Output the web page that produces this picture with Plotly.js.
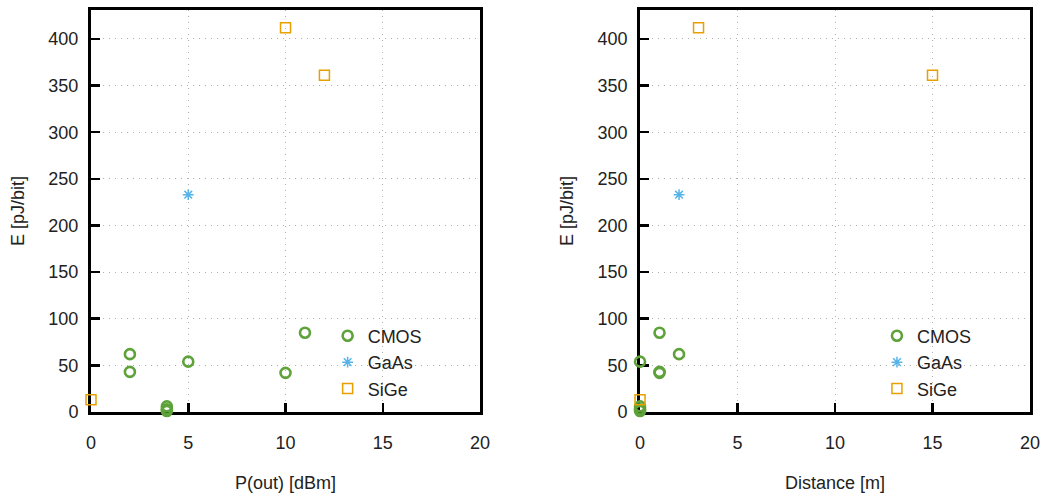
<!DOCTYPE html>
<html>
<head>
<meta charset="utf-8">
<script src="https://cdn.plot.ly/plotly-3.0.1.min.js"></script>
<style>html,body{margin:0;padding:0;background:#fff;}#chart{width:1044px;height:497px;}</style>
</head>
<body>
<div id="chart"></div>
<script>
// CMOS
const cmosPout = [2, 2, 5, 10, 11, 3.9, 3.9, 3.9];
const cmosDist = [2, 1, 0, 1, 1, 0, 0, 0];
const cmosE    = [62, 43, 54, 42, 85, 6, 3, 1];
// GaAs
const gaasPout = [5];
const gaasDist = [2];
const gaasE    = [233];
// SiGe
const sigePout = [0, 10, 12];
const sigeDist = [0, 3, 15];
const sigeE    = [13, 412, 361];

const xTicks = [0, 5, 10, 15, 20];
const yTicks = [0, 50, 100, 150, 200, 250, 300, 350, 400];

const FONT = "Liberation Sans, Arial, sans-serif";
const green = "#5ea23a", blue = "#56b4e9", orange = "#e8a000";

const circ = {symbol: "circle-open", size: 10, color: green, line: {width: 2.6, color: green}};
const star = {symbol: "asterisk-open", size: 9, color: blue, line: {width: 1.5, color: blue}};
const sq = {symbol: "square-open", size: 10, color: orange, line: {width: 1.5, color: orange}};

const common = {type: "scatter", mode: "markers", cliponaxis: false};
const traces = [
  Object.assign({x: cmosPout, y: cmosE, name: "CMOS", marker: circ, xaxis: "x", yaxis: "y", legend: "legend"}, common),
  Object.assign({x: gaasPout, y: gaasE, name: "GaAs", marker: star, xaxis: "x", yaxis: "y", legend: "legend"}, common),
  Object.assign({x: sigePout, y: sigeE, name: "SiGe", marker: sq, xaxis: "x", yaxis: "y", legend: "legend"}, common),
  Object.assign({x: cmosDist, y: cmosE, name: "CMOS", marker: circ, xaxis: "x2", yaxis: "y2", legend: "legend2"}, common),
  Object.assign({x: gaasDist, y: gaasE, name: "GaAs", marker: star, xaxis: "x2", yaxis: "y2", legend: "legend2"}, common),
  Object.assign({x: sigeDist, y: sigeE, name: "SiGe", marker: sq, xaxis: "x2", yaxis: "y2", legend: "legend2"}, common)
];

const GRID = {showgrid: true, gridcolor: "#b0b0b0", griddash: "1px,5px", gridwidth: 1};

function xax(title, domain, anchor) {
  return Object.assign({
    domain: domain, anchor: anchor, range: [0, 20],
    tickvals: xTicks, ticktext: xTicks.map(String),
    ticks: "inside", ticklen: 9, tickwidth: 2.5, tickcolor: "#000",
    showline: true, linecolor: "#000", linewidth: 3, mirror: true,
    zeroline: false, ticklabelstandoff: 12, layer: "below traces",
    tickfont: {family: FONT, size: 18, color: "#222"},
    title: {text: title, font: {family: FONT, size: 18, color: "#222"}, standoff: 25}
  }, GRID);
}
function yax(anchor) {
  return Object.assign({
    anchor: anchor, range: [0, 431],
    tickvals: yTicks, ticktext: yTicks.map(String),
    ticks: "inside", ticklen: 9, tickwidth: 2.5, tickcolor: "#000",
    showline: true, linecolor: "#000", linewidth: 3, mirror: true,
    zeroline: false, ticklabelstandoff: 6, layer: "below traces",
    tickfont: {family: FONT, size: 18, color: "#222"},
    title: {text: "E [pJ/bit]", font: {family: FONT, size: 18, color: "#222"}, standoff: 20}
  }, GRID);
}

const legendCommon = {
  bgcolor: "rgba(0,0,0,0)", borderwidth: 0,
  font: {family: FONT, size: 18, color: "#222"},
  xanchor: "left", yanchor: "top", tracegroupgap: 0
};

const layout = {
  width: 1044, height: 497,
  margin: {l: 91, r: 14, t: 10, b: 85},
  paper_bgcolor: "#fff", plot_bgcolor: "#fff",
  showlegend: true,
  xaxis: xax("P(out) [dBm]", [0, 0.4143], "y"),
  yaxis: yax("x"),
  xaxis2: xax("Distance [m]", [0.5847, 1], "y2"),
  yaxis2: yax("x2"),
  legend: Object.assign({x: 0.252, y: 0.235}, legendCommon),
  legend2: Object.assign({x: 0.837, y: 0.235}, legendCommon)
};

Plotly.newPlot("chart", traces, layout, {displayModeBar: false, staticPlot: true});
</script>
</body>
</html>
